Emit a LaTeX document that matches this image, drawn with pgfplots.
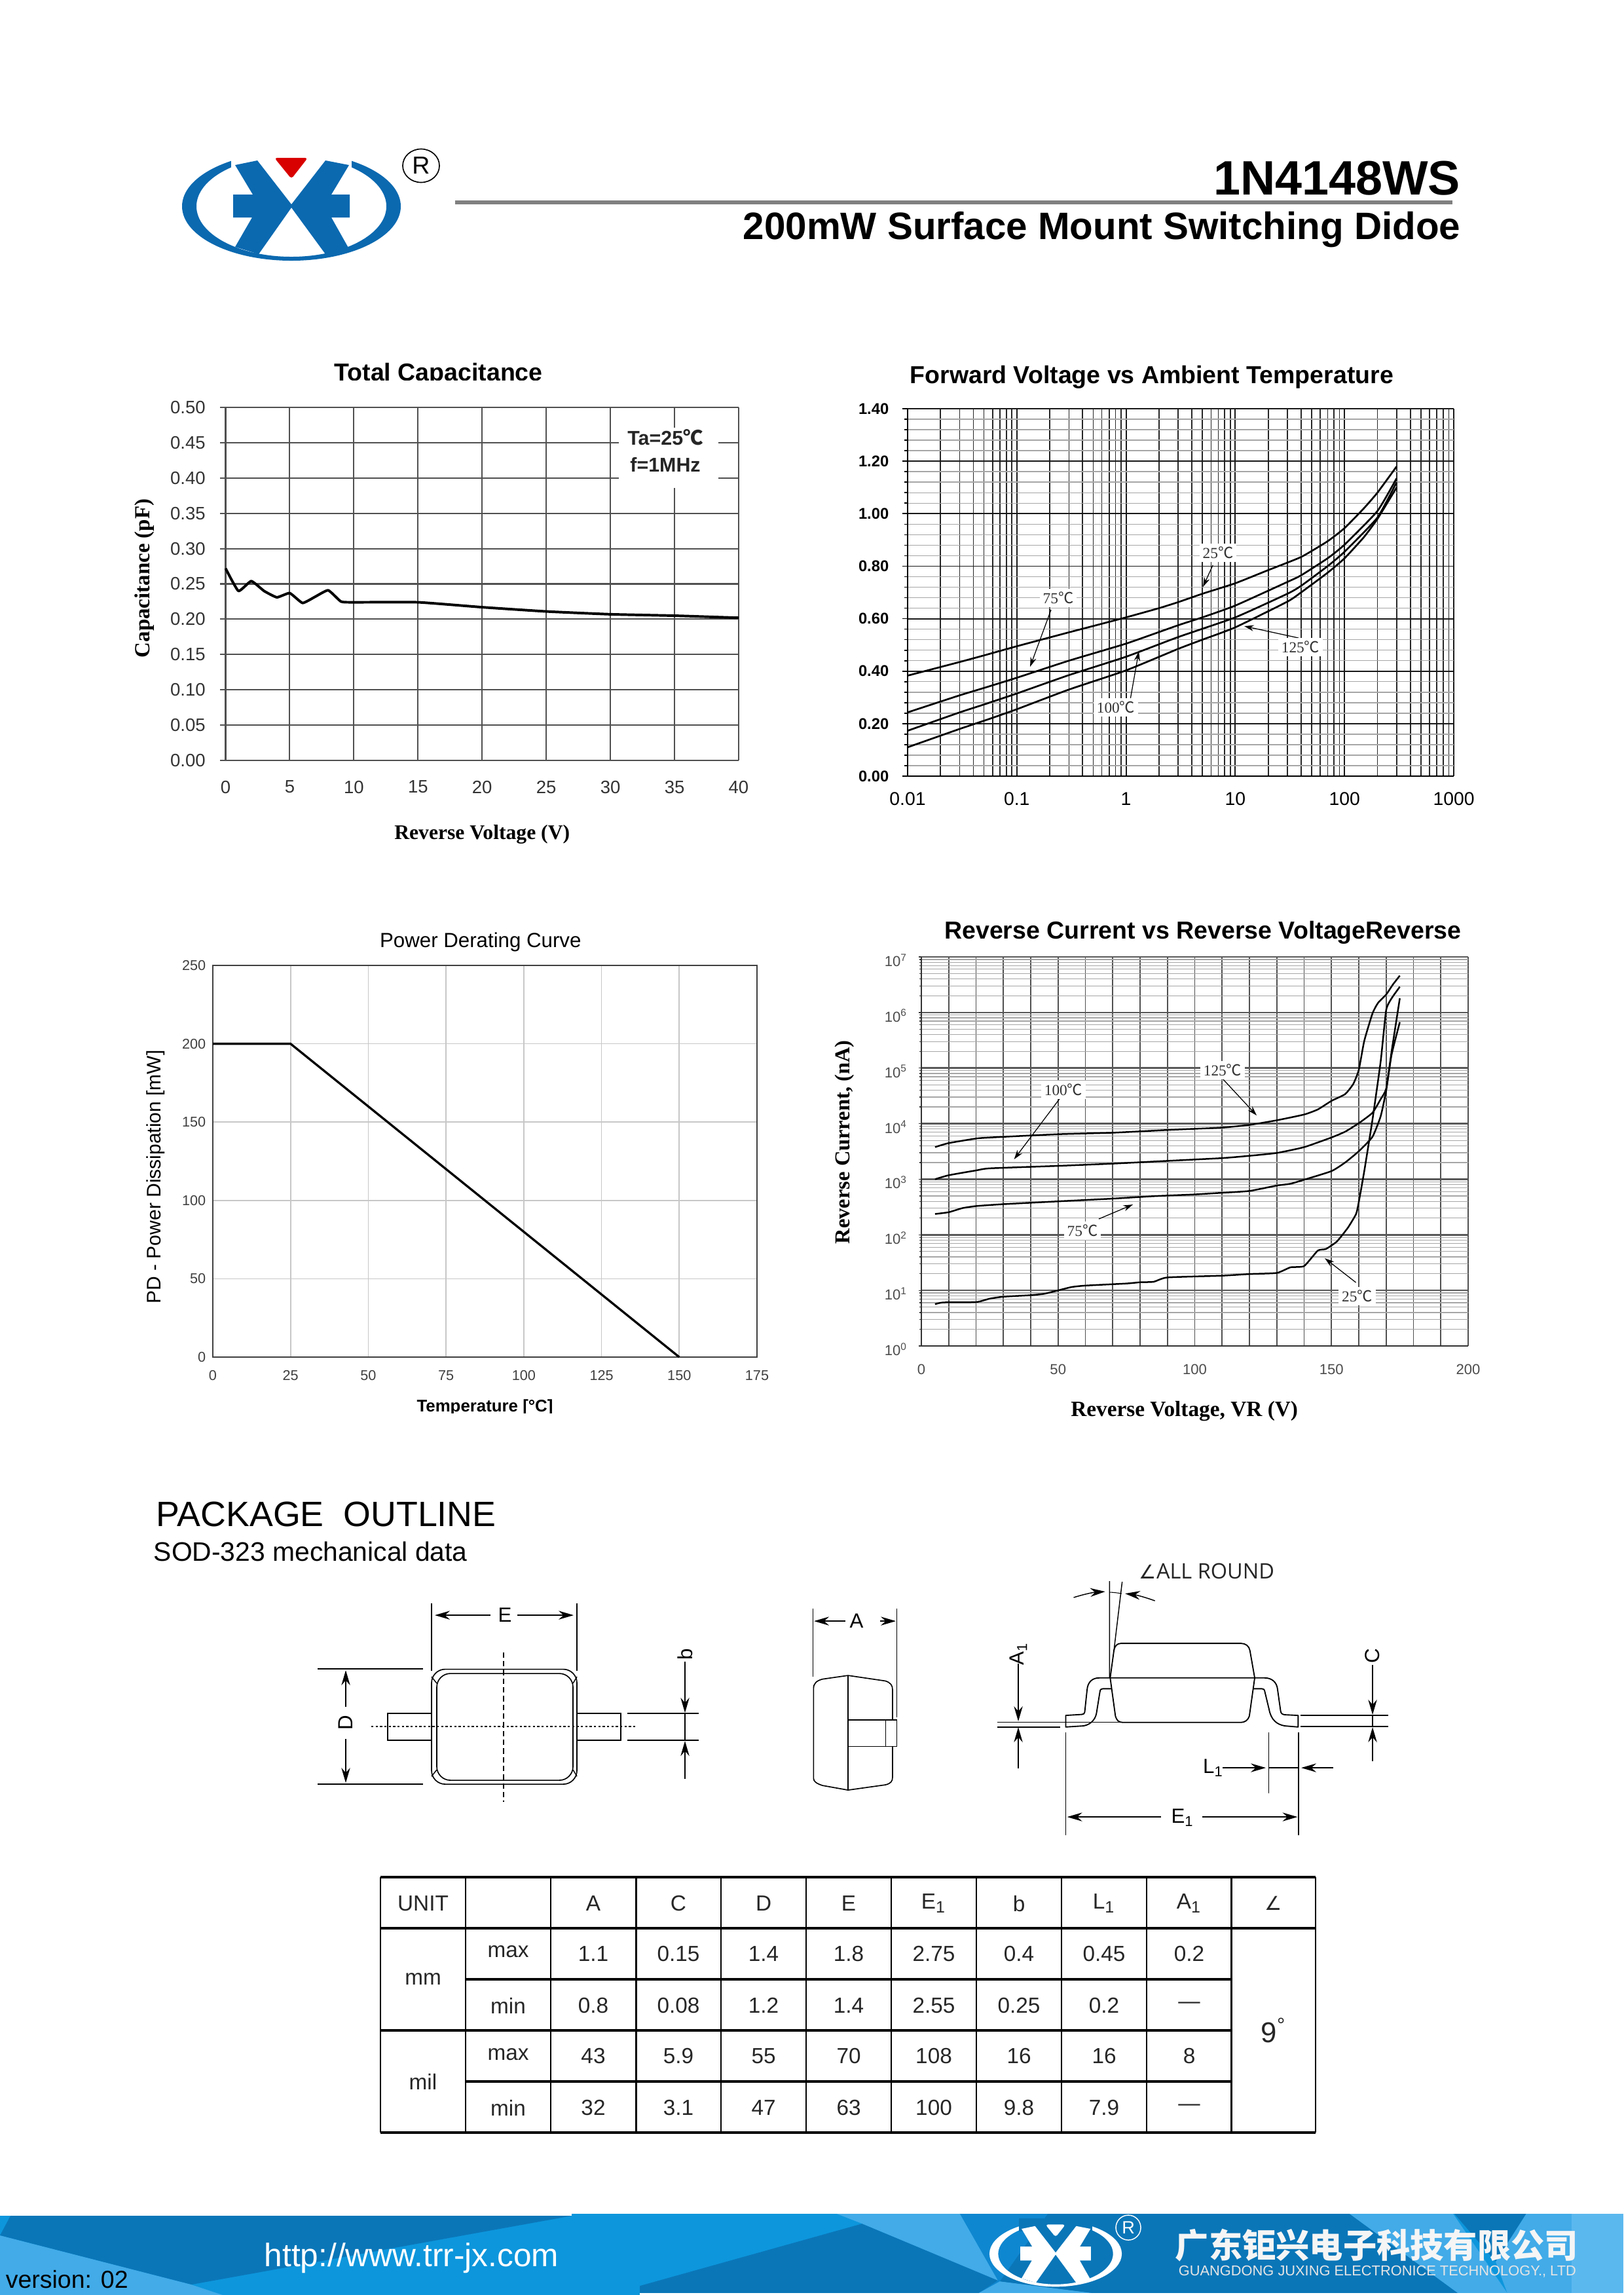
\documentclass[border=0pt]{standalone}
\usepackage{fontspec}
\usepackage{pgfplots}
\pgfplotsset{compat=1.18}
\usetikzlibrary{arrows.meta}
\setmainfont{Liberation Sans}
\newfontfamily\serif{Liberation Serif}
\newfontfamily\cjk{Noto Sans CJK SC}
\newfontfamily\open{Open Sans}
\newfontfamily\dejavu{DejaVu Sans}
\newcommand\fs[1]{\fontsize{#1}{#1}\selectfont}
\newcommand\degc{{\cjk ℃}}
\definecolor{gridd}{HTML}{505050}
\definecolor{logob}{HTML}{0B69B0}
\definecolor{bandb}{HTML}{0D96DC}
\definecolor{bandd}{HTML}{0A76B8}
\definecolor{bandm}{HTML}{0F87D0}
\definecolor{bandl}{HTML}{42ABE8}
\definecolor{bandr}{HTML}{5BB8EE}
\newcommand\logo[3]{%
  \fill[#1,even odd rule] (0,0) ellipse [x radius=167,y radius=83] (0,0) ellipse [x radius=145,y radius=77];
  \fill[#2] (-92,-90) rectangle (92,-56);
  \fill[#3,rounded corners=1pt] (-26,-74) -- (25,-74) -- (0,-42) -- cycle;
  \fill[#1,line join=round]
    (-86,-63) -- (-52,-70) -- (0,-3) -- (52,-70) -- (88,-63) -- (61,-18) -- (89,-18) -- (89,17) -- (61,17)
    -- (88,65) -- (52,73) -- (0,2) -- (-50,73) -- (-86,62) -- (-60,17) -- (-89,17) -- (-89,-18) -- (-59,-18) -- cycle;
}
\tikzset{dim/.style={line width=.35pt,-{Stealth[length=5.5pt,width=3.2pt]}},
  ext/.style={line width=.35pt},
  note/.style={line width=.3pt,-{Stealth[length=3.5pt,width=2.2pt]}},
  tl/.style={fill=white,inner sep=1.2pt,font=\serif\fs{5.6},text=black!80}}
\begin{document}
\begin{tikzpicture}
\path[use as bounding box] (0,0) rectangle (594.96pt,-840.96pt);

% total capacitance
\begin{axis}[at={(82.68pt,-278.64pt)},scale only axis,width=188.04pt,height=129.36pt,
  xmin=0,xmax=40,ymin=0,ymax=0.5,clip=false,
  xtick={0,5,...,40},ytick={0,0.05,0.1,0.15,0.2,0.25,0.3,0.35,0.4,0.45,0.5},
  grid=major,grid style={gridd,line width=.5pt},axis line style={gridd,line width=.5pt},
  axis x line*=bottom,axis y line*=left,axis line style={-},
  xtick style={draw=none},ytick style={gridd,line width=.5pt},major tick length=2pt,
  tick align=outside,
  /pgf/number format/assume math mode=true,
  tick label style={font=\fs{6.6},text=black!80,inner sep=0pt},
  xticklabel shift=5.2pt,yticklabel shift=5.2pt,
  yticklabel style={/pgf/number format/.cd,fixed,fixed zerofill,precision=2},
  title={\bfseries Total Capacitance},
  title style={at={(axis description cs:.415,1.1)},anchor=center,yshift=-7pt,font=\fs{9}},
  xlabel={\bfseries Reverse Voltage (V)},
  xlabel style={at={(axis description cs:.5,-.21)},anchor=center,font=\serif\fs{7.6}},
  ylabel={\bfseries Capacitance (pF)},
  ylabel style={at={(axis description cs:-.158,.516)},anchor=center,font=\serif\fs{7.9}}]
\addplot[black,line width=.95pt,line join=round,smooth,tension=.25] coordinates {
 (0,0.272) (1,0.24) (2,0.254) (3,0.24) (4,0.231) (5,0.237) (6,0.223) (7,0.232) (8,0.241)
 (9,0.225) (10,0.224) (15,0.224) (20,0.217) (25,0.211) (30,0.207) (35,0.205) (40,0.202)};
\end{axis}

% forward voltage
\begin{axis}[at={(332.64pt,-284.4pt)},scale only axis,width=200.16pt,height=134.64pt,
  xmode=log,xmin=0.01,xmax=1000,ymin=0,ymax=1.4,
  xtick={0.01,0.1,1,10,100,1000},xticklabels={0.01,0.1,1,10,100,1000},
  ytick={0,0.2,0.4,0.6,0.8,1,1.2,1.4},minor y tick num=4,
  grid=both,major grid style={black!90,line width=.45pt},
  minor x grid style={black!85,line width=.42pt},
  minor y grid style={black!35,line width=.35pt},
  axis x line*=bottom,axis y line*=left,axis line style={-,black,line width=.45pt},
  xtick style={draw=none},minor x tick style={draw=none},ytick style={black,line width=.4pt},
  major tick length=2pt,minor tick length=1.2pt,tick align=outside,
  /pgf/number format/assume math mode=true,
  tick label style={inner sep=0pt},
  xticklabel style={font=\fs{6.8}},yticklabel style={font=\fs{5.7}\bfseries,
    /pgf/number format/.cd,fixed,fixed zerofill,precision=2},
  xticklabel shift=3.8pt,yticklabel shift=4.7pt,
  title={\bfseries Forward Voltage vs Ambient Temperature},
  title style={at={(axis description cs:.447,1.094)},anchor=center,yshift=-7pt,font=\fs{9}}]
\addplot[black,line width=.65pt,smooth,tension=.3] coordinates {
 (0.01,0.383) (0.03,0.435) (0.05,0.46) (0.1,0.495) (0.3,0.548) (0.5,0.572) (1,0.605) (2,0.64) (3,0.663)
 (5,0.695) (10,0.735) (20,0.785) (40,0.835) (70,0.895) (100,0.945) (150,1.02) (200,1.08) (300,1.18)};
\addplot[black,line width=.65pt,smooth,tension=.3] coordinates {
 (0.01,0.243) (0.03,0.308) (0.05,0.336) (0.1,0.375) (0.3,0.44) (1,0.505) (3,0.575) (5,0.605) (10,0.65)
 (30,0.74) (40,0.765) (70,0.83) (100,0.882) (200,1.01) (300,1.135)};
\addplot[black,line width=.65pt,smooth,tension=.3] coordinates {
 (0.01,0.173) (0.03,0.243) (0.05,0.273) (0.1,0.315) (0.3,0.385) (1,0.455) (3,0.53) (10,0.605)
 (30,0.695) (40,0.725) (70,0.8) (100,0.855) (200,0.985) (300,1.12)};
\addplot[black,line width=.65pt,smooth,tension=.3] coordinates {
 (0.01,0.11) (0.03,0.18) (0.05,0.211) (0.07,0.232) (0.1,0.255) (0.3,0.33) (1,0.403) (3,0.485) (5,0.52) (10,0.567)
 (30,0.665) (40,0.7) (70,0.775) (100,0.83) (150,0.91) (200,0.98) (300,1.1)};
\end{axis}

% power derating
\begin{axis}[at={(78pt,-497.28pt)},scale only axis,width=199.44pt,height=143.52pt,
  xmin=0,xmax=175,ymin=0,ymax=250,clip=false,
  xtick={0,25,...,175},ytick={0,50,...,250},
  grid=major,grid style={black!22,line width=.4pt},
  axis line style={black!75,line width=.4pt},
  tick pos=left,tick style={draw=none},
  /pgf/number format/assume math mode=true,
  tick label style={font=\fs{5.2},text=black!75,inner sep=0pt},
  xticklabel shift=4.8pt,yticklabel shift=2.4pt,
  title={Power Derating Curve},
  title style={at={(axis description cs:.492,1.067)},anchor=center,yshift=-7pt,font=\fs{7.5}},
  xlabel={\bfseries Temperature [°C]},
  xlabel style={at={(axis description cs:.5,-.129)},anchor=center,font=\fs{6.2}},
  ylabel={PD - Power Dissipation [mW]},
  ylabel style={at={(axis description cs:-.105,.46)},anchor=center,font=\fs{7.2}}]
\addplot[black,line width=.8pt] coordinates {(0,200) (25,200) (150,0)};
\end{axis}

% reverse current
\begin{axis}[at={(337.68pt,-493.2pt)},scale only axis,width=200.4pt,height=142.56pt,
  ymode=log,xmin=0,xmax=200,ymin=1,ymax=1e7,
  xtick={0,50,100,150,200},minor x tick num=4,
  ytick={1,10,100,1000,10000,100000,1000000,10000000},
  yticklabels={10\textsuperscript{0},10\textsuperscript{1},10\textsuperscript{2},10\textsuperscript{3},10\textsuperscript{4},10\textsuperscript{5},10\textsuperscript{6},10\textsuperscript{7}},
  grid=both,major x grid style={gridd,line width=.42pt},minor x grid style={gridd,line width=.42pt},
  major y grid style={black!65,line width=.6pt},minor y grid style={black!35,line width=.3pt},
  axis x line*=bottom,axis y line*=left,axis line style={-,black!80,line width=.45pt},
  xtick style={draw=none},minor x tick style={draw=none},ytick style={black!80,line width=.3pt},
  major tick length=1pt,minor tick length=.8pt,tick align=outside,
  /pgf/number format/assume math mode=true,
  tick label style={font=\fs{5.3},text=black!70,inner sep=0pt},
  xticklabel shift=5.6pt,yticklabel shift=3.8pt,yticklabel style={yshift=-1.2pt},
  title={\bfseries Reverse Current vs Reverse VoltageReverse},
  title style={at={(axis description cs:.515,1.069)},anchor=center,yshift=-7pt,font=\fs{9}},
  xlabel={\bfseries Reverse Voltage, VR (V)},
  xlabel style={at={(axis description cs:.481,-.168)},anchor=center,font=\serif\fs{8}},
  ylabel={\bfseries Reverse Current, (nA)},
  ylabel style={at={(axis description cs:-.14,.524)},anchor=center,font=\serif\fs{7.8}}]
% 125C
\addplot[black,line width=.6pt,smooth,tension=.3] coordinates {
 (5,3790) (10,4470) (20,5400) (25,5630) (50,6460) (70,6870) (90,7700) (110,8500) (120,9500) (130,11500)
 (140,14600) (145,18000) (150,25700) (155,34000) (158,52000) (160,93000) (162,309000) (165,960000)
 (167,1480000) (170,2100000) (172.5,3200000) (175,4600000)};
% 100C
\addplot[black,line width=.6pt,smooth,tension=.3] coordinates {
 (5,1000) (10,1180) (20,1440) (25,1570) (50,1740) (70,1910) (90,2140) (110,2400) (120,2640) (130,2970)
 (140,3780) (150,5640) (155,7170) (160,10200) (165,15700) (168,27600) (170,42500) (172,200000) (175,1800000)};
% 75C
\addplot[black,line width=.6pt,smooth,tension=.3] coordinates {
 (5,237) (10,255) (15,302) (20,329) (30,356) (50,400) (70,448) (85,496) (100,533) (110,571) (120,615)
 (130,770) (135,829) (140,980) (150,1400) (155,2000) (160,3190) (165,5800) (168,13600) (170,39000)
 (172,175000) (175,670000)};
% 25C
\addplot[black,line width=.6pt,smooth,tension=.3] coordinates {
 (5,5.66) (8,6.07) (20,6.16) (25,7.1) (30,7.7) (40,8.2) (45,8.7) (50,10) (55,11.5) (60,12.2) (75,13.3)
 (80,14) (85,14.3) (90,17.1) (110,18.4) (120,19.7) (130,20.6) (135,26) (140,27.4) (145,52) (148,55.7)
 (152,76) (156,134) (159,237) (160,390) (162,1400) (165,11800) (168,132000) (170,1100000) (172,1800000)
 (175,2900000)};
\end{axis}

\begin{scope}[x=.24pt,y=-.24pt]
% header
\begin{scope}[shift={(445,315)}]\logo{logob}{white}{red!85!black}\end{scope}
\draw[line width=.4pt] (643,253) ellipse [x radius=28,y radius=25.5];
\node[font=\fs{9}] at (643,253) {R};
\fill[black!50] (695,306) rectangle (2218,312);
\node[anchor=base east,font=\fs{17.7}\bfseries,inner sep=0pt] at (2231,297) {1N4148WS};
\node[anchor=base east,font=\fs{14}\bfseries,inner sep=0pt] at (2231,365) {200mW Surface Mount Switching Didoe};

% clipped titles, the source images overlap them
\fill[white] (480,581) rectangle (860,592);
\fill[white] (620,2158) rectangle (860,2172);

% annotations chart 1
\fill[white] (945,653) rectangle (1097,745);
\node[inner sep=0pt,align=center,font=\fs{7.3}\bfseries,text=black!85] at (1016,688)
 {Ta=25\degc\\[2.6pt]f=1MHz};

% annotations forward voltage
\draw[note] (1852,863) -- (1837,896);
\draw[note] (1605,931) -- (1573,1018);
\draw[note] (1726,1068) -- (1739,994.5);
\draw[note] (1983,974) -- (1900,956);
\node[tl] at (1860,844) {25\degc};
\node[tl] at (1616,913) {75\degc};
\node[tl] at (1704,1080) {100\degc};
\node[tl] at (1986,988) {125\degc};

% annotations reverse current
\draw[note] (1867,1647) -- (1919,1703);
\draw[note] (1621.5,1673) -- (1548.5,1770);
\draw[note] (1678,1861) -- (1730,1839);
\draw[note] (2070.5,1958) -- (2023,1921);
\node[tl] at (1867,1634) {125\degc};
\node[tl] at (1624,1664) {100\degc};
\node[tl] at (1653,1879) {75\degc};
\node[tl] at (2072.5,1979) {25\degc};

% package outline
\node[anchor=base west,font=\fs{12.9},inner sep=0pt] at (238,2330) {PACKAGE\ \ OUTLINE};
\node[anchor=base west,font=\fs{9.8},inner sep=0pt] at (234,2383) {SOD-323 mechanical data};

% top view
\draw[line width=.4pt,rounded corners=5pt] (659,2548.5) rectangle (881,2724);
\draw[line width=.4pt,rounded corners=5pt] (667,2555) rectangle (875,2718);
\draw[line width=.35pt] (659,2560) -- (667,2570) (881,2560) -- (875,2570) (659,2712) -- (667,2702) (881,2712) -- (875,2702);
\draw[line width=.4pt] (659,2616) -- (592,2616) -- (592,2657) -- (659,2657) (881,2616) -- (948,2616) -- (948,2657) -- (881,2657);
\draw[line width=.6pt,dash pattern=on .8pt off .8pt] (567,2636) -- (973,2636);
\draw[line width=.35pt,dash pattern=on 2pt off 1.2pt] (769,2522.5) -- (769,2751);
\draw[ext] (659,2447.5) -- (659,2551) (881,2447.5) -- (881,2551);
\draw[dim] (749,2466) -- (664,2466);
\draw[dim] (790,2466) -- (876,2466);
\node[font=\fs{7.5}] at (771,2466) {E};
\draw[line width=.4pt] (485,2548) -- (646,2548) (485,2724) -- (646,2724);
\draw[dim] (528,2606) -- (528,2550);
\draw[dim] (528,2655) -- (528,2722);
\node[font=\fs{7.5},rotate=90] at (528,2630) {D};
\draw[line width=.4pt] (958,2616) -- (1067,2616) (958,2657) -- (1067,2657);
\draw[ext] (1046,2616) -- (1046,2657);
\draw[dim] (1046,2537) -- (1046,2615);
\draw[dim] (1046,2716) -- (1046,2658);
\node[font=\fs{7.5},rotate=90] at (1046,2526) {b};

% side view
\draw[ext] (1241.5,2456) -- (1241.5,2560) (1369.5,2456) -- (1369.5,2622);
\draw[dim] (1290.5,2475) -- (1243,2475);
\draw[dim] (1344,2475) -- (1368,2475);
\node[font=\fs{7.5}] at (1308,2475) {A};
\draw[line width=.4pt,line join=round] (1295,2558) -- (1352,2566.4) .. controls (1360,2569) and (1363,2573) .. (1363,2580)
 -- (1363,2713) .. controls (1363,2720) and (1360,2723) .. (1352,2725) -- (1295,2733) -- (1256,2726)
 .. controls (1247,2723) and (1242.3,2720) .. (1242.3,2715) -- (1242.3,2578) .. controls (1242.3,2570) and (1247,2566) .. (1256,2563.6) -- cycle;
\draw[line width=.4pt] (1295,2558) -- (1295,2733);
\draw[line width=.4pt,fill=white] (1295,2626) rectangle (1369.4,2666.4);
\draw[line width=.4pt] (1352.5,2626) -- (1352.5,2666.4);

% front view
\draw[line width=.45pt,line join=round] (1695.3,2561.7) -- (1701,2520) .. controls (1702,2513) and (1706,2509) .. (1712,2509)
 -- (1895,2509) .. controls (1902,2509) and (1907.5,2513) .. (1908.7,2520) -- (1916,2561.7) -- (1907.8,2620)
 .. controls (1906,2626) and (1901,2629.7) .. (1895,2629.7) -- (1714.5,2629.7) .. controls (1708,2629.7) and (1705,2626) .. (1703.3,2620) -- cycle;
\draw[line width=.45pt,line join=round] (1931,2561.7) -- (1678.7,2561.7) .. controls (1668,2561.7) and (1661,2568) .. (1660,2580)
 -- (1656.4,2614) .. controls (1656,2616.5) and (1655,2617) .. (1652,2617.5) -- (1627.4,2619) -- (1627.4,2636.7) -- (1654.2,2635)
 .. controls (1662,2634) and (1672,2628) .. (1674.3,2616) -- (1679.6,2583) .. controls (1680,2579) and (1682,2578.3) .. (1684,2578.3) -- (1697,2578.3);
\draw[line width=.45pt,line join=round] (1931,2561.7) .. controls (1942,2561.7) and (1950,2568) .. (1951,2580)
 -- (1955.5,2612) .. controls (1956,2616) and (1958,2617.5) .. (1962,2618) -- (1982.3,2619) -- (1982.3,2636.7) -- (1962,2635)
 .. controls (1950,2633) and (1941,2626) .. (1938,2610) -- (1931.5,2583) .. controls (1931,2579) and (1929,2578.3) .. (1927,2578.3) -- (1914,2578.3);
\draw[line width=.35pt] (1694.4,2414) -- (1694.4,2561.7) (1713.6,2415) -- (1701,2520);
\draw[line width=.25pt] (1694.4,2431) .. controls (1700,2431) and (1707,2432) .. (1713,2433);
\draw[line width=.35pt,-{Stealth[length=5.5pt,width=3.2pt]}] (1639.5,2439) .. controls (1655,2434) and (1670,2431) .. (1687.7,2430);
\draw[line width=.35pt,-{Stealth[length=5.5pt,width=3.2pt]}] (1763.6,2444) .. controls (1750,2439) and (1735,2435) .. (1718,2433);
\node[anchor=base west,font=\open\fs{7.8},inner sep=0pt,text=black!85] at (1739,2410) {{\dejavu\fs{7}∠}ALL ROUND};
\draw[line width=.4pt] (1522.5,2629.3) -- (1714,2629.3) (1522.5,2636.7) -- (1618.5,2636.7);
\draw[dim] (1555,2540) -- (1555,2628);
\draw[dim] (1555,2700) -- (1555,2637);
\node[font=\fs{7.5},rotate=90] at (1555,2525) {A\textsubscript{1}};
\draw[line width=.4pt] (1986,2619) -- (2120,2619) (1986,2636) -- (2120,2636);
\draw[ext] (2096,2619) -- (2096,2636);
\draw[dim] (2096,2541.7) -- (2096,2618);
\draw[dim] (2096,2689) -- (2096,2637);
\node[font=\fs{7.5},rotate=90] at (2096,2528) {C};
\draw[ext] (1937.7,2645) -- (1937.7,2738) (1982.8,2645) -- (1982.8,2802) (1627.4,2645) -- (1627.4,2802);
\draw[ext] (1937.7,2699) -- (1982.8,2699);
\draw[dim] (1867,2699) -- (1933,2699);
\draw[dim] (2036,2699) -- (1987,2699);
\node[font=\fs{7.5}] at (1853,2699) {L\textsubscript{1}};
\draw[dim] (1772.5,2774) -- (1629.6,2774);
\draw[dim] (1836,2774) -- (1981.4,2774);
\node[font=\fs{7.5}] at (1806,2775) {E\textsubscript{1}};

% dimensions table
\foreach \c in {711,841,971.5,1101,1231,1361,1490.6,1621,1751,1880.4}
  \draw[line width=.5pt] (\c,2866) -- (\c,3256);
\draw[line width=.6pt] (581,2866) -- (581,3256) (2009,2866) -- (2009,3256);
\draw[line width=.95pt] (581,2866) -- (2009,2866) (581,2944) -- (2009,2944) (581,3256) -- (2009,3256);
\draw[line width=.8pt] (711,3022) -- (1880.4,3022) (581,3100) -- (1880.4,3100) (711,3178) -- (1880.4,3178);
\begin{scope}[every node/.style={font=\fs{8},text=black!85,inner sep=0pt}]
\node at (646,2906) {UNIT};
\foreach \c/\t in {906/A,1036/C,1166/D,1296/E,1426/E\textsubscript{1},1556/b,1686/L\textsubscript{1},1816/A\textsubscript{1}}
  \node at (\c,2906) {\t};
\node at (1945,2906) {{\dejavu\fs{7}∠}};
\node at (646,3021) {mm};
\node at (646,3178) {mil};
\node at (776,2980) {max};
\node at (776,3062) {min};
\node at (776,3137) {max};
\node at (776,3218) {min};
\foreach \c/\a/\b/\d/\e in {906/1.1/0.8/43/32,1036/0.15/0.08/5.9/3.1,1166/1.4/1.2/55/47,1296/1.8/1.4/70/63,
   1426/2.75/2.55/108/100,1556/0.4/0.25/16/9.8,1686/0.45/0.2/16/7.9,1816/0.2/—/8/—} {
  \node at (\c,2983) {\a};
  \node at (\c,3062) {\b};
  \node at (\c,3139) {\d};
  \node at (\c,3218) {\e};
}
\node[font=\fs{10.5}] at (1945,3100) {9\textsuperscript{°}};
\end{scope}

% footer band
\fill[bandb] (0,3383) rectangle (873,3504);
\fill[bandb] (873,3380) rectangle (977,3504);
\fill[bandd] (16,3383) -- (873,3383) -- (292,3488) -- (0,3413) -- cycle;
\fill[bandl] (0,3413) -- (292,3488) -- (340,3504) -- (0,3504) -- cycle;
\fill[bandb] (873,3380) rectangle (2479,3500.7);
\fill[bandd] (977,3500.7) -- (977,3490) -- (1316.6,3395) -- (1527,3481.7) -- (1495,3500.7) -- cycle;
\fill[bandl] (1278,3380) -- (1466,3380) -- (1524,3481.7) -- (1316.6,3395) -- cycle;
\fill[bandm] (1466,3380) -- (1700,3380) -- (1700,3500.7) -- (1495,3500.7) -- (1524,3481.7) -- cycle;
\fill[bandl] (1495,3500.7) -- (1527,3483) -- (1667,3500.7) -- cycle;
\fill[bandd] (1600,3380) -- (2061,3380) -- (2226,3500.7) -- (1667,3500.7) -- (1527,3483) -- cycle;
\fill[bandl] (2061,3380) -- (2219,3380) -- (2301.6,3500.7) -- (2226,3500.7) -- cycle;
\fill[bandd] (2221,3380) -- (2330.6,3380) -- (2284,3453) -- cycle;
\fill[bandl] (2330.6,3380) -- (2400,3380) -- (2400,3500.7) -- (2301.6,3500.7) -- (2284,3453) -- cycle;
\fill[bandr] (2400,3380) rectangle (2479,3500.7);
\begin{scope}[shift={(1612,3441)},scale=.605]\logo{white}{bandd}{white}\end{scope}
\draw[white,line width=.35pt] (1723,3401) ellipse [x radius=19,y radius=19];
\node[font=\fs{6.5},text=white] at (1723,3401) {R};
\node[anchor=west,inner sep=0pt,font=\cjk\fs{12.3}\bfseries,text=black!4] at (1794,3428) {广东钜兴电子科技有限公司};
\node[anchor=west,inner sep=0pt,font=\fs{5.24},text=black!10] at (1799,3468) {GUANGDONG JUXING ELECTRONICE TECHNOLOGY., LTD};
\node[anchor=west,inner sep=0pt,font=\fs{11.9},text=white] at (403,3448) {http://www.trr-jx.com};
\node[anchor=west,inner sep=0pt,font=\fs{9}] at (8,3480) {version: 02};
\end{scope}
\end{tikzpicture}
\end{document}
